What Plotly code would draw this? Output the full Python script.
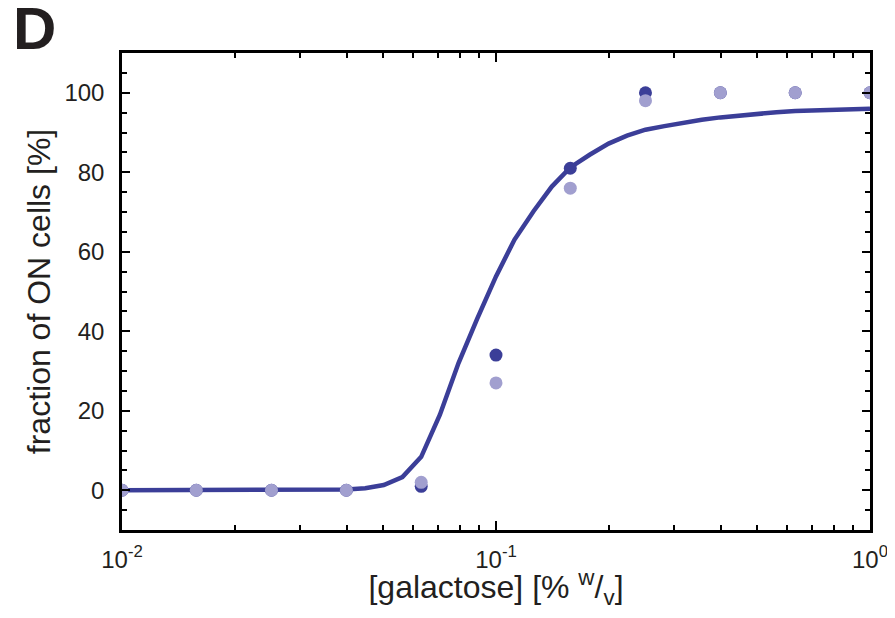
import plotly.graph_objects as go

# Measured data (galactose % w/v)
conc = [0.01, 0.0158, 0.0251, 0.0398, 0.0631, 0.1, 0.158, 0.251, 0.398, 0.631, 1.0]
rep1 = [0, 0, 0, 0, 1, 34, 81, 100, 100, 100, 100]
rep2 = [0, 0, 0, 0, 2, 27, 76, 98, 100, 100, 100]

# Fitted curve
fit_x = [0.01, 0.02, 0.0282, 0.0355, 0.0398, 0.0447, 0.0501, 0.0562, 0.0631, 0.0708,
         0.0794, 0.0891, 0.1, 0.112, 0.126, 0.141, 0.158, 0.178, 0.2, 0.224, 0.251,
         0.282, 0.316, 0.355, 0.398, 0.447, 0.501, 0.562, 0.631, 0.708, 0.794, 0.891, 1.0]
fit_y = [0, 0, 0.05, 0.1, 0.2, 0.5, 1.3, 3.3, 8.4, 19, 32, 43.2, 53.8, 63, 70.2, 76.4,
         81.2, 84.4, 87.2, 89.2, 90.7, 91.6, 92.5, 93.2, 93.8, 94.3, 94.8, 95.1, 95.4,
         95.6, 95.7, 95.9, 96.0]

x_major = [0.01, 0.1, 1.0]
x_major_text = ["10<sup>-2</sup>", "10<sup>-1</sup>", "10<sup>0</sup>"]
x_minor = [0.02, 0.03, 0.04, 0.05, 0.06, 0.07, 0.08, 0.09,
           0.2, 0.3, 0.4, 0.5, 0.6, 0.7, 0.8, 0.9]

DARK = "#3b3e98"
LIGHT = "#a19fcf"
FONT = "Liberation Sans, Arial, sans-serif"
TXT = "#231f20"

fig = go.Figure()
fig.add_trace(go.Scatter(x=fit_x, y=fit_y, mode="lines",
                         line=dict(color=DARK, width=4.5), showlegend=False))
fig.add_trace(go.Scatter(x=conc, y=rep1, mode="markers",
                         marker=dict(color=DARK, size=13, line=dict(width=0)), showlegend=False))
fig.add_trace(go.Scatter(x=conc, y=rep2, mode="markers",
                         marker=dict(color=LIGHT, size=13, line=dict(width=0)), showlegend=False))

fig.update_xaxes(type="log", range=[-2, 0], tickmode="array", tickvals=x_major,
                 ticktext=x_major_text, ticks="inside", ticklen=9, tickwidth=2,
                 tickcolor="black", showline=True, linecolor="black", linewidth=2.5,
                 mirror="ticks", showgrid=False, zeroline=False, automargin=False,
                 tickfont=dict(family=FONT, size=24, color=TXT),
                 ticklabelstandoff=6, ticklabeloverflow="allow",
                 minor=dict(tickmode="array", tickvals=x_minor, ticks="inside",
                            ticklen=5, tickwidth=2, tickcolor="black", showgrid=False),
                 title=dict(text="[galactose] [% <sup>w</sup>/<sub>v</sub>]",
                            font=dict(family=FONT, size=32, color=TXT), standoff=9))
fig.update_yaxes(range=[-10, 110], tickmode="linear", tick0=0, dtick=20,
                 ticks="inside", ticklen=8, tickwidth=2, tickcolor="black",
                 showline=True, linecolor="black", linewidth=2.5, mirror="ticks",
                 showgrid=False, zeroline=False, automargin=False,
                 tickfont=dict(family=FONT, size=24, color=TXT),
                 ticklabelstandoff=10,
                 minor=dict(tick0=0, dtick=5, ticks="inside", ticklen=5, tickwidth=2,
                            tickcolor="black", showgrid=False),
                 title=dict(text="fraction of ON cells [%]",
                            font=dict(family=FONT, size=32, color=TXT), standoff=5))

fig.add_annotation(text="<b>D</b>", xref="paper", yref="paper", x=-0.149, y=1.125,
                   xanchor="left", yanchor="top", showarrow=False,
                   font=dict(family=FONT, size=60, color=TXT))

# page body has an 8px margin: keep the figure small enough to avoid scrollbars
fig.update_layout(width=887, height=602, margin=dict(l=114, r=25, t=45, b=80),
                  plot_bgcolor="white", paper_bgcolor="white")

fig.write_html("out.html")
